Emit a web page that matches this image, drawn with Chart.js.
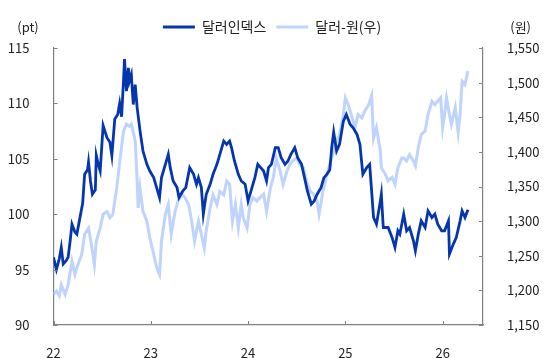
<!DOCTYPE html>
<html>
<head>
<meta charset="utf-8">
<script src="https://cdn.jsdelivr.net/npm/chart.js@4.4.1/dist/chart.umd.min.js"></script>
<style>
  html, body { margin: 0; padding: 0; background: #fff; }
  #wrap { width: 544px; height: 358px; }
</style>
</head>
<body>
<div id="wrap"><canvas id="fx-chart" width="544" height="358"></canvas></div>
<script>
// year ticks on the bottom axis (22 = 2022)
const yearTicks = [22, 23, 24, 25, 26];

// dollar index (left axis, pt)
const dxyYears = [
  22.00, 22.03, 22.06, 22.08, 22.10, 22.13, 22.15, 22.17, 22.19, 22.22,
  22.24, 22.27, 22.30, 22.32, 22.35, 22.36, 22.38, 22.40, 22.43, 22.44,
  22.46, 22.48, 22.51, 22.55, 22.58, 22.60, 22.63, 22.66, 22.68, 22.70,
  22.72, 22.73, 22.75, 22.77, 22.78, 22.80, 22.82, 22.84, 22.86, 22.89,
  22.92, 22.96, 22.99, 23.03, 23.06, 23.09, 23.11, 23.15, 23.18, 23.20,
  23.23, 23.27, 23.29, 23.33, 23.36, 23.40, 23.44, 23.47, 23.49, 23.52,
  23.54, 23.57, 23.61, 23.64, 23.68, 23.71, 23.75, 23.78, 23.81, 23.83,
  23.86, 23.90, 23.93, 23.97, 24.00, 24.04, 24.07, 24.10, 24.13, 24.16,
  24.19, 24.21, 24.24, 24.28, 24.31, 24.34, 24.38, 24.41, 24.44, 24.48,
  24.51, 24.55, 24.58, 24.61, 24.65, 24.68, 24.71, 24.75, 24.78, 24.81,
  24.84, 24.86, 24.88, 24.91, 24.94, 24.98, 25.01, 25.05, 25.08, 25.12,
  25.15, 25.18, 25.22, 25.25, 25.27, 25.29, 25.32, 25.36, 25.37, 25.39,
  25.44, 25.48, 25.51, 25.54, 25.56, 25.60, 25.63, 25.66, 25.70, 25.72,
  25.75, 25.78, 25.82, 25.85, 25.89, 25.92, 25.95, 25.99, 26.02, 26.06,
  26.07, 26.11, 26.14, 26.18, 26.20, 26.23, 26.26
];
const dxyValues = [
  96.1, 95.0, 96.0, 97.0, 95.5, 95.8, 96.1, 97.5, 99.1, 98.4,
  98.2, 99.6, 101.0, 103.6, 104.0, 104.7, 103.0, 101.8, 102.2, 105.3,
  104.5, 103.9, 108.0, 106.9, 106.5, 105.3, 108.6, 109.0, 110.0, 108.8,
  112.1, 114.0, 111.1, 113.2, 112.0, 112.6, 109.9, 111.7, 109.6, 107.5,
  105.7, 104.5, 103.9, 103.3, 102.4, 101.5, 103.3, 104.5, 105.4, 104.2,
  103.0, 102.4, 101.5, 102.1, 102.4, 104.2, 103.6, 102.7, 103.3, 102.4,
  100.0, 101.8, 102.7, 103.6, 104.5, 105.4, 106.6, 106.3, 106.6, 106.0,
  104.8, 103.6, 103.0, 102.7, 101.2, 102.4, 103.3, 104.5, 104.2, 103.9,
  103.0, 104.2, 104.5, 106.0, 106.0, 105.1, 104.5, 104.8, 105.4, 106.0,
  105.1, 104.5, 103.3, 102.1, 100.9, 101.2, 101.8, 102.4, 103.3, 103.6,
  104.0, 106.0, 107.4, 105.7, 106.3, 108.4, 109.0, 108.1, 107.8, 107.2,
  106.3, 103.6, 104.2, 104.5, 102.1, 99.7, 99.1, 101.2, 101.8, 98.8,
  98.8, 97.9, 97.0, 98.5, 98.2, 100.0, 98.5, 98.8, 97.6, 96.7,
  98.2, 99.4, 98.8, 100.3, 99.7, 100.0, 99.1, 98.5, 98.5, 99.4,
  96.4, 97.3, 97.9, 99.4, 100.3, 99.7, 100.4
];

// won per dollar (right axis)
const krwYears = [
  22.00, 22.03, 22.06, 22.08, 22.12, 22.15, 22.19, 22.22, 22.25, 22.29,
  22.32, 22.36, 22.39, 22.42, 22.44, 22.48, 22.51, 22.55, 22.58, 22.61,
  22.65, 22.68, 22.72, 22.75, 22.78, 22.80, 22.84, 22.86, 22.87, 22.89,
  22.92, 22.96, 22.99, 23.03, 23.06, 23.09, 23.11, 23.15, 23.18, 23.21,
  23.25, 23.28, 23.32, 23.35, 23.39, 23.42, 23.45, 23.49, 23.52, 23.55,
  23.57, 23.61, 23.64, 23.68, 23.71, 23.75, 23.78, 23.81, 23.84, 23.87,
  23.90, 23.93, 23.95, 23.99, 24.02, 24.05, 24.09, 24.12, 24.16, 24.19,
  24.23, 24.26, 24.29, 24.33, 24.36, 24.40, 24.43, 24.46, 24.50, 24.53,
  24.57, 24.60, 24.64, 24.67, 24.71, 24.73, 24.77, 24.81, 24.84, 24.88,
  24.91, 24.94, 24.98, 25.00, 25.03, 25.06, 25.10, 25.13, 25.17, 25.20,
  25.24, 25.27, 25.29, 25.32, 25.36, 25.37, 25.41, 25.44, 25.48, 25.51,
  25.54, 25.58, 25.60, 25.63, 25.66, 25.70, 25.72, 25.75, 25.78, 25.82,
  25.85, 25.89, 25.92, 25.95, 25.98, 26.00, 26.02, 26.04, 26.07, 26.09,
  26.13, 26.16, 26.18, 26.20, 26.23, 26.26
];
const krwValues = [
  1194, 1199, 1192, 1208, 1194, 1208, 1242, 1223, 1237, 1252,
  1281, 1290, 1266, 1237, 1271, 1290, 1310, 1314, 1305, 1310,
  1348, 1385, 1430, 1440, 1437, 1440, 1416, 1358, 1319, 1348,
  1314, 1300, 1276, 1252, 1233, 1223, 1271, 1310, 1324, 1281,
  1314, 1329, 1339, 1334, 1324, 1300, 1271, 1300, 1281, 1261,
  1286, 1319, 1338, 1324, 1343, 1338, 1358, 1353, 1300, 1324,
  1290, 1324, 1305, 1290, 1324, 1334, 1329, 1334, 1339, 1314,
  1348, 1363, 1391, 1372, 1353, 1372, 1382, 1387, 1391, 1382,
  1377, 1358, 1343, 1339, 1329, 1310, 1343, 1367, 1382, 1401,
  1416, 1425, 1454, 1478, 1468, 1454, 1435, 1454, 1449, 1459,
  1468, 1481, 1420, 1435, 1401, 1377, 1368, 1358, 1363, 1353,
  1377, 1391, 1391, 1387, 1396, 1387, 1380, 1406, 1425, 1430,
  1454, 1473, 1468, 1473, 1478, 1435, 1454, 1478, 1454, 1440,
  1464, 1428, 1454, 1502, 1497, 1517
];

const darkBlue = '#0536AE';
const lightBlue = '#BED3FD';
const axisColor = '#808080';
const textColor = '#222222';
const fontFamily = '"Noto Sans CJK KR", "Noto Sans", sans-serif';

const toPoints = (xs, ys) => xs.map((x, i) => ({ x, y: ys[i] }));

// short tick marks that point into the plot, plus the unit labels
const frameExtras = {
  id: 'frameExtras',
  afterLayout(chart) {
    chart.legend.top -= 4;
    chart.legend.bottom -= 4;
  },
  afterDraw(chart) {
    const { ctx, chartArea: a, scales } = chart;
    ctx.save();
    ctx.strokeStyle = axisColor;
    ctx.lineWidth = 1;
    ctx.beginPath();
    scales.y.ticks.forEach(t => {
      const py = Math.round(scales.y.getPixelForValue(t.value)) + 0.5;
      ctx.moveTo(a.left, py); ctx.lineTo(a.left + 4, py);
    });
    scales.y1.ticks.forEach(t => {
      const py = Math.round(scales.y1.getPixelForValue(t.value)) + 0.5;
      ctx.moveTo(a.right - 4, py); ctx.lineTo(a.right, py);
    });
    scales.x.ticks.forEach(t => {
      const px = Math.round(scales.x.getPixelForValue(t.value)) + 0.5;
      ctx.moveTo(px, a.bottom); ctx.lineTo(px, a.bottom - 4);
    });
    ctx.stroke();

    ctx.fillStyle = textColor;
    ctx.font = '13px ' + fontFamily;
    ctx.textBaseline = 'middle';
    ctx.textAlign = 'center';
    ctx.fillText('(pt)', 28, 27);
    ctx.textAlign = 'right';
    ctx.fillText('(원)', 531, 27);
    ctx.restore();
  }
};

new Chart(document.getElementById('fx-chart'), {
  type: 'line',
  data: {
    datasets: [
      {
        label: '달러인덱스',
        data: toPoints(dxyYears, dxyValues),
        yAxisID: 'y',
        borderColor: darkBlue,
        backgroundColor: darkBlue,
        borderWidth: 2.8,
        pointRadius: 0,
        tension: 0
      },
      {
        label: '달러-원(우)',
        data: toPoints(krwYears, krwValues),
        yAxisID: 'y1',
        borderColor: lightBlue,
        backgroundColor: lightBlue,
        borderWidth: 3,
        pointRadius: 0,
        tension: 0
      }
    ]
  },
  options: {
    responsive: false,
    animation: false,
    devicePixelRatio: 1,
    layout: { padding: { top: 14, left: 0, right: 0, bottom: 0 } },
    plugins: {
      legend: {
        position: 'top',
        labels: {
          usePointStyle: true,
          pointStyle: 'line',
          pointStyleWidth: 32,
          padding: 10,
          color: textColor,
          font: { family: fontFamily, size: 14 }
        }
      },
      tooltip: { enabled: false }
    },
    scales: {
      x: {
        type: 'linear',
        min: 22,
        max: 26.415,
        afterBuildTicks: s => { s.ticks = yearTicks.map(v => ({ value: v })); },
        afterFit: s => { s.height = 33; },
        grid: { display: false },
        border: { display: true, color: axisColor, width: 1.2 },
        ticks: { padding: 12, color: textColor, font: { family: fontFamily, size: 13 } }
      },
      y: {
        position: 'left',
        min: 90,
        max: 115,
        afterFit: s => { s.width = 53.5; },
        grid: { display: false },
        border: { display: true, color: axisColor, width: 1.2 },
        ticks: { stepSize: 5, padding: 16, color: textColor, font: { family: fontFamily, size: 13 } }
      },
      y1: {
        position: 'right',
        min: 1150,
        max: 1550,
        afterFit: s => { s.width = 61; },
        grid: { display: false },
        border: { display: true, color: axisColor, width: 1.2 },
        ticks: {
          stepSize: 50,
          padding: 16,
          color: textColor,
          font: { family: fontFamily, size: 13 },
          callback: v => v.toLocaleString('en-US')
        }
      }
    }
  },
  plugins: [frameExtras]
});
</script>
</body>
</html>
